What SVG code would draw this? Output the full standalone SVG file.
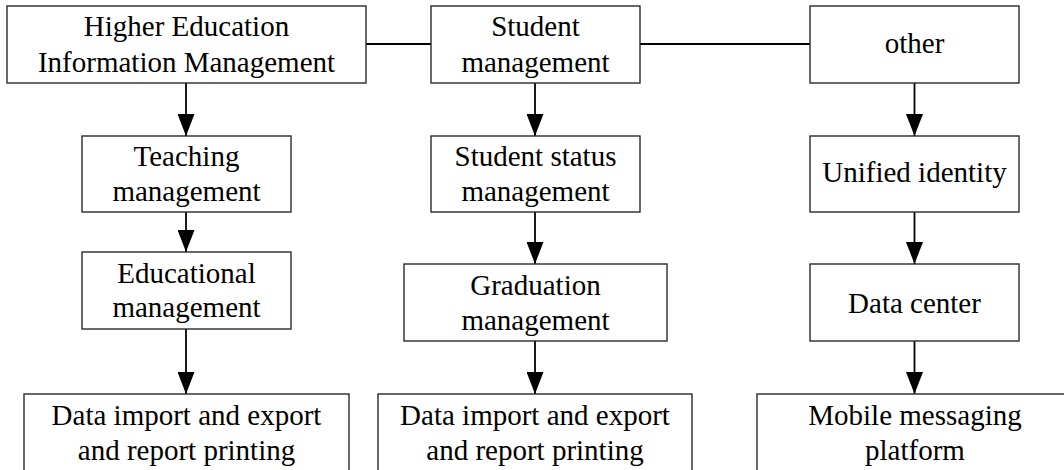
<svg xmlns="http://www.w3.org/2000/svg" width="1064" height="470" viewBox="0 0 1064 470">
<style>
.box{fill:#fff;stroke:#2a2a2a;stroke-width:1.4}
.t{font-family:"Liberation Serif","Times New Roman",serif;font-size:29px;fill:#000;text-anchor:middle}
.c{stroke:#000;stroke-width:1.8;fill:none}
</style>
<defs>
<marker id="ah" markerUnits="userSpaceOnUse" viewBox="0 0 22 17" refX="22" refY="8.5" markerWidth="22" markerHeight="17" orient="auto">
<path d="M0,0 L22,8.5 L0,17 z" fill="#000"/>
</marker>
</defs>
<rect width="1064" height="470" fill="#fff"/>
<g id="connectors">
<line class="c" x1="366" y1="44" x2="431" y2="44"/>
<line class="c" x1="640" y1="44" x2="810" y2="44"/>
<line class="c" x1="186" y1="83" x2="186" y2="136" marker-end="url(#ah)"/>
<line class="c" x1="186" y1="212" x2="186" y2="252" marker-end="url(#ah)"/>
<line class="c" x1="186" y1="329" x2="186" y2="394" marker-end="url(#ah)"/>
<line class="c" x1="535" y1="83" x2="535" y2="136" marker-end="url(#ah)"/>
<line class="c" x1="535" y1="212" x2="535" y2="264" marker-end="url(#ah)"/>
<line class="c" x1="535" y1="341" x2="535" y2="394" marker-end="url(#ah)"/>
<line class="c" x1="914.5" y1="83" x2="914.5" y2="136" marker-end="url(#ah)"/>
<line class="c" x1="914.5" y1="212" x2="914.5" y2="264" marker-end="url(#ah)"/>
<line class="c" x1="914.5" y1="341" x2="914.5" y2="394" marker-end="url(#ah)"/>
</g>
<g id="n-higher">
<rect class="box" x="7" y="6" width="359" height="77"/>
<text class="t" x="186.5" y="36">Higher Education</text>
<text class="t" x="186.5" y="72">Information Management</text>
</g>
<g id="n-student">
<rect class="box" x="431" y="6" width="209" height="77"/>
<text class="t" x="535.5" y="36">Student</text>
<text class="t" x="535.5" y="72">management</text>
</g>
<g id="n-other">
<rect class="box" x="810" y="6" width="209" height="77"/>
<text class="t" x="914.5" y="53">other</text>
</g>
<g id="n-teaching">
<rect class="box" x="82" y="136" width="209" height="76"/>
<text class="t" x="186.5" y="166">Teaching</text>
<text class="t" x="186.5" y="201">management</text>
</g>
<g id="n-status">
<rect class="box" x="431" y="136" width="209" height="76"/>
<text class="t" x="535.5" y="166">Student status</text>
<text class="t" x="535.5" y="201">management</text>
</g>
<g id="n-identity">
<rect class="box" x="810" y="136" width="209" height="76"/>
<text class="t" x="914.5" y="182">Unified identity</text>
</g>
<g id="n-educational">
<rect class="box" x="82" y="252" width="209" height="77"/>
<text class="t" x="186.5" y="283">Educational</text>
<text class="t" x="186.5" y="317">management</text>
</g>
<g id="n-graduation">
<rect class="box" x="404" y="264" width="263" height="77"/>
<text class="t" x="535.5" y="295">Graduation</text>
<text class="t" x="535.5" y="330">management</text>
</g>
<g id="n-datacenter">
<rect class="box" x="810" y="264" width="209" height="77"/>
<text class="t" x="914.5" y="313">Data center</text>
</g>
<g id="n-data1">
<rect class="box" x="24" y="394" width="325" height="90"/>
<text class="t" x="186.5" y="425">Data import and export</text>
<text class="t" x="186.5" y="460">and report printing</text>
</g>
<g id="n-data2">
<rect class="box" x="378" y="394" width="314" height="90"/>
<text class="t" x="535" y="425">Data import and export</text>
<text class="t" x="535" y="460">and report printing</text>
</g>
<g id="n-mobile">
<rect class="box" x="757" y="394" width="316" height="90"/>
<text class="t" x="915" y="425">Mobile messaging</text>
<text class="t" x="915" y="460">platform</text>
</g>
</svg>
